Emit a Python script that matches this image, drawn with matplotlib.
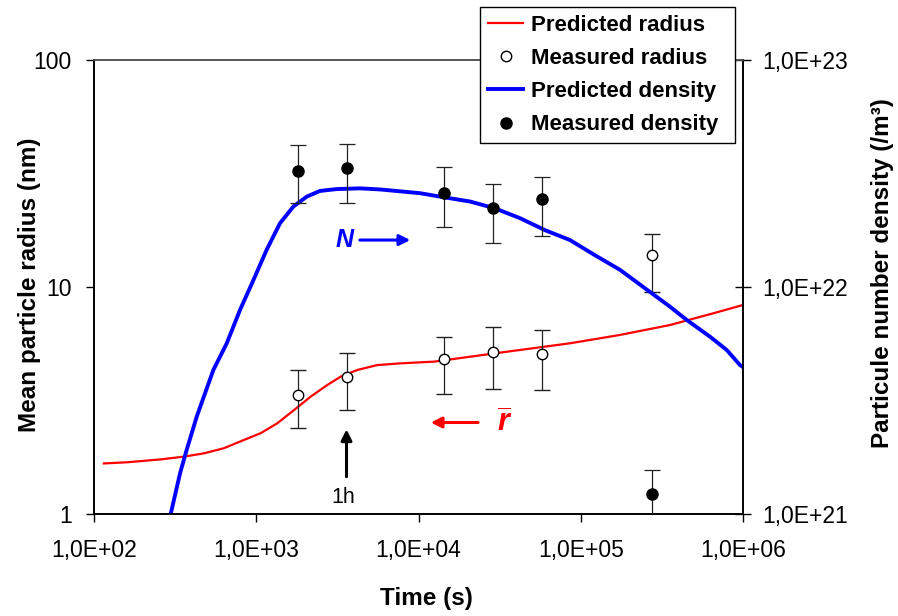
"""
Rayon moyen et densité de précipités en fonction du temps (axes log, double axe y).
"""

import matplotlib
matplotlib.use('Agg')
from matplotlib import pyplot as plt
from matplotlib import ticker
from matplotlib.lines import Line2D

plt.rcParams['font.family'] = ['Liberation Sans', 'DejaVu Sans']
plt.rcParams['mathtext.fontset'] = 'custom'
plt.rcParams['mathtext.it'] = 'Liberation Sans:italic:bold'
plt.rcParams['mathtext.rm'] = 'Liberation Sans'

# predicted mean radius (nm)
pred_r_time = [115, 160, 258, 359, 476, 633, 841, 1065, 1348, 1709, 2166, 2741, 3316,
               4197, 5573, 7767, 12460, 20770, 42230, 85850, 174600, 354800, 656200,
               1000000]
pred_r = [1.67, 1.69, 1.74, 1.79, 1.85, 1.95, 2.12, 2.27, 2.51, 2.87, 3.29, 3.70, 4.03,
          4.31, 4.53, 4.61, 4.69, 4.93, 5.28, 5.65, 6.15, 6.80, 7.66, 8.33]

# predicted number density (/m3)
pred_n_time = [297, 339, 372, 430, 544, 658, 794, 959, 1160, 1401, 1692, 2046, 2471,
               3133, 4360, 5790, 10210, 14570, 20770, 29620, 42230, 60220, 85850,
               122400, 174600, 248900, 354800, 449800, 626100, 793600, 958300, 1000000]
pred_n = [1.00e21, 1.51e21, 1.91e21, 2.69e21, 4.31e21, 5.65e21, 7.92e21, 1.07e22,
          1.46e22, 1.91e22, 2.26e22, 2.50e22, 2.65e22, 2.70e22, 2.72e22, 2.69e22,
          2.59e22, 2.48e22, 2.38e22, 2.22e22, 2.01e22, 1.78e22, 1.61e22, 1.38e22,
          1.19e22, 9.87e21, 8.19e21, 7.16e21, 6.04e21, 5.28e21, 4.53e21, 4.44e21]

# measurements
meas_time = [1800, 3600, 14400, 28800, 57600, 275000]
meas_r = [3.34, 4.01, 4.80, 5.17, 5.07, 13.8]
meas_r_hi = [4.31, 5.13, 6.04, 6.68, 6.48, 17.2]
meas_r_lo = [2.39, 2.87, 3.37, 3.56, 3.53, 9.5]
meas_n = [3.24e22, 3.33e22, 2.60e22, 2.23e22, 2.43e22, 1.23e21]
meas_n_hi = [4.23e22, 4.28e22, 3.39e22, 2.84e22, 3.04e22, 1.57e21]
meas_n_lo = [2.34e22, 2.34e22, 1.84e22, 1.56e22, 1.67e22, 0.89e21]

x_ticks = [1e2, 1e3, 1e4, 1e5, 1e6]
x_tick_labels = ['1,0E+02', '1,0E+03', '1,0E+04', '1,0E+05', '1,0E+06']
r_ticks = [1, 10, 100]
r_tick_labels = ['1', '10', '100']
n_ticks = [1e21, 1e22, 1e23]
n_tick_labels = ['1,0E+21', '1,0E+22', '1,0E+23']


def main():
    fig = plt.figure(figsize=(8.98, 6.16), dpi=100)
    ax = fig.add_axes([94 / 898, 1 - 514 / 616, 649 / 898, 454 / 616])
    ax2 = ax.twinx()

    ax.plot(pred_r_time, pred_r, color='#ff0000', lw=1.6, zorder=2)
    err_r = [[m - lo for m, lo in zip(meas_r, meas_r_lo)],
             [hi - m for m, hi in zip(meas_r, meas_r_hi)]]
    ax.errorbar(meas_time, meas_r, yerr=err_r, fmt='o', mfc='white', mec='black',
                mew=1.0, ms=7.5, ecolor='#222222', elinewidth=0.9, capsize=5.5,
                capthick=0.9, zorder=3)

    ax2.plot(pred_n_time, pred_n, color='#0000ff', lw=2.8, zorder=2,
             solid_joinstyle='round')
    err_n = [[m - lo for m, lo in zip(meas_n, meas_n_lo)],
             [hi - m for m, hi in zip(meas_n, meas_n_hi)]]
    ax2.errorbar(meas_time, meas_n, yerr=err_n, fmt='o', mfc='black', mec='black',
                 ms=8, ecolor='#222222', elinewidth=0.9, capsize=5.5, capthick=0.9,
                 zorder=3)

    ax.set_xscale('log')
    ax.set_yscale('log')
    ax2.set_yscale('log')
    ax.set_xlim(1e2, 1e6)
    ax.set_ylim(1, 100)
    ax2.set_ylim(1e21, 1e23)

    ax.xaxis.set_major_locator(ticker.FixedLocator(x_ticks))
    ax.xaxis.set_major_formatter(ticker.FixedFormatter(x_tick_labels))
    ax.yaxis.set_major_locator(ticker.FixedLocator(r_ticks))
    ax.yaxis.set_major_formatter(ticker.FixedFormatter(r_tick_labels))
    ax2.yaxis.set_major_locator(ticker.FixedLocator(n_ticks))
    ax2.yaxis.set_major_formatter(ticker.FixedFormatter(n_tick_labels))
    for a in (ax.xaxis, ax.yaxis, ax2.yaxis):
        a.set_minor_locator(ticker.NullLocator())

    ax.tick_params(axis='x', direction='out', length=6, width=1, labelsize=16.5,
                   pad=12, color='black')
    ax.tick_params(axis='y', direction='out', length=6, width=1, labelsize=16.5,
                   pad=10, color='black')
    ax2.tick_params(axis='y', direction='inout', length=12, width=1, labelsize=16.5,
                    pad=8, color='black')

    for a in (ax, ax2):
        for s in a.spines.values():
            s.set_linewidth(1.2)
        a.spines['top'].set_color('#555555')

    fig.text(30 / 898, 1 - 285 / 616, 'Mean particle radius (nm)', rotation=90,
             ha='center', va='center', fontsize=17.5, fontweight='bold')
    fig.text(426 / 898, 1 - 598 / 616, 'Time (s)', ha='center', va='center',
             fontsize=17.5, fontweight='bold')
    fig.text(883 / 898, 1 - 273 / 616, 'Particule number density (/m³)', rotation=90,
             ha='center', va='center', fontsize=17.5, fontweight='bold')

    # annotations
    ax.text(3520, 16.1, 'N', color='#0000ff', fontsize=18, fontweight='bold',
            fontstyle='italic', ha='center', va='center')
    ax.annotate('', xy=(8900, 16.1), xytext=(4350, 16.1),
                arrowprops=dict(arrowstyle='-|>', color='#0000ff', lw=2.2,
                                mutation_scale=16, shrinkA=0, shrinkB=0))
    ax.text(34100, 2.30, r'$\overline{r}$', color='#ff0000', fontsize=22,
            ha='center', va='baseline')
    ax.annotate('', xy=(11900, 2.53), xytext=(23300, 2.53),
                arrowprops=dict(arrowstyle='-|>', color='#ff0000', lw=2.2,
                                mutation_scale=16, shrinkA=0, shrinkB=0))
    ax.annotate('', xy=(3600, 2.36), xytext=(3600, 1.46),
                arrowprops=dict(arrowstyle='-|>', color='black', lw=2.2,
                                mutation_scale=16, shrinkA=0, shrinkB=0))
    ax.text(3450, 1.18, '1h', fontsize=15.5, ha='center', va='center')

    handles = [
        Line2D([], [], color='#ff0000', lw=1.6),
        Line2D([], [], ls='none', marker='o', mfc='white', mec='black', ms=7.5),
        Line2D([], [], color='#0000ff', lw=2.8),
        Line2D([], [], ls='none', marker='o', mfc='black', mec='black', ms=8),
    ]
    labels = ['Predicted radius', 'Measured radius', 'Predicted density',
              'Measured density']
    leg = ax2.legend(handles, labels, loc='upper left', mode='expand',
                     bbox_to_anchor=(480 / 898, 1 - 140 / 616, 255 / 898, 133 / 616),
                     bbox_transform=fig.transFigure, borderaxespad=0,
                     fancybox=False, framealpha=1, edgecolor='black',
                     prop={'weight': 'bold', 'size': 16}, handlelength=1.6,
                     handletextpad=0.35, borderpad=0.35, labelspacing=0.55)
    leg.get_frame().set_linewidth(1.0)

    fig.savefig('out.png', dpi=100)


if __name__ == '__main__':
    main()
